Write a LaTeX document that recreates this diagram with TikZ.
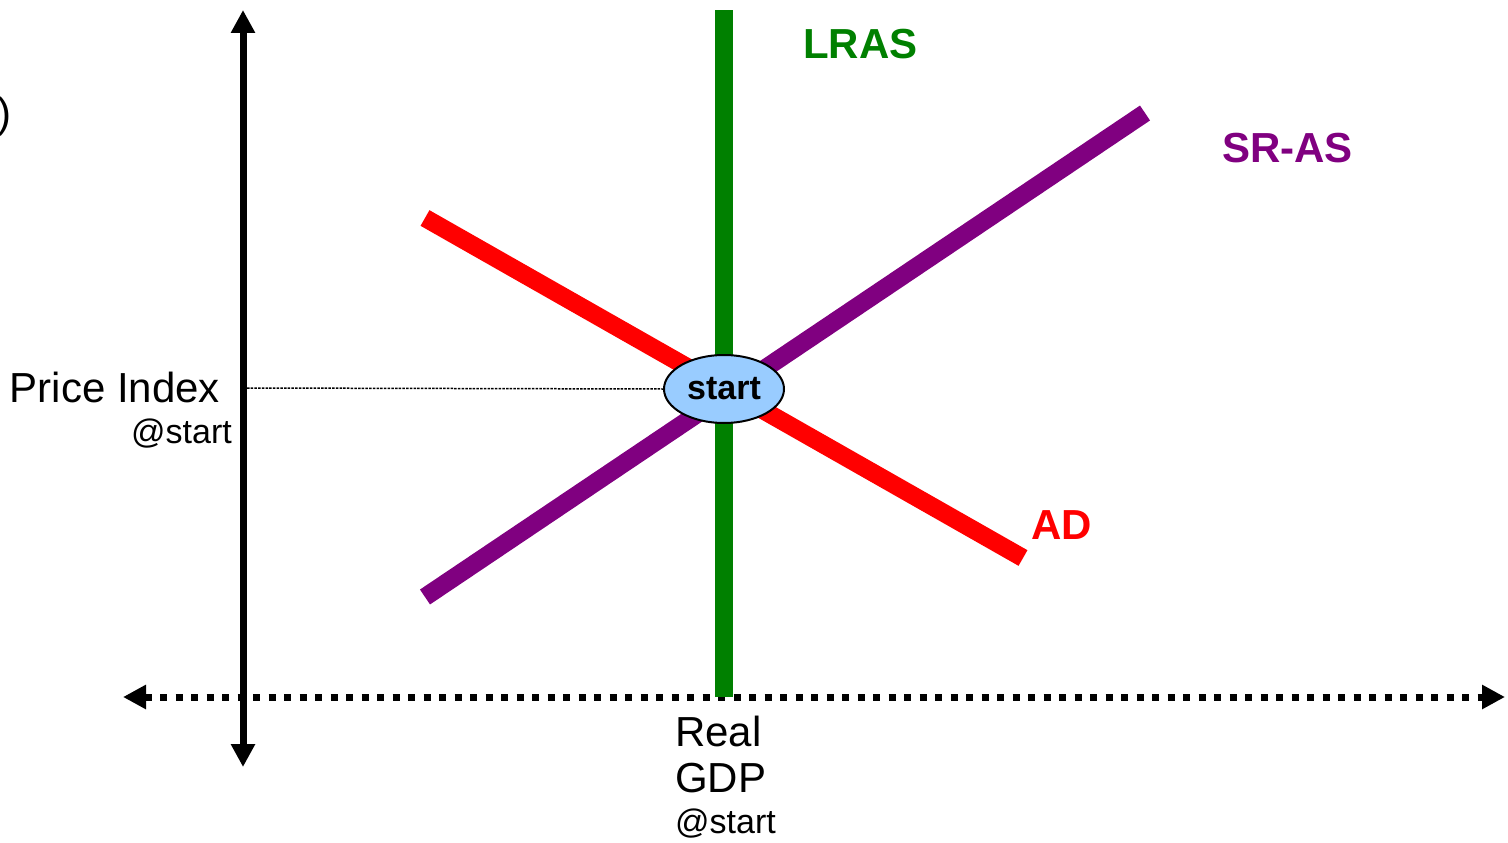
\documentclass[tikz,border=0pt]{standalone}
\usepackage{fontspec}
\setmainfont{Liberation Sans}
\usetikzlibrary{arrows.meta,shapes.geometric}
\definecolor{lrasgreen}{RGB}{0,128,0}
\definecolor{srpurple}{RGB}{128,0,128}
\definecolor{adred}{RGB}{255,0,0}
\definecolor{startblue}{RGB}{153,204,255}
\begin{document}
\begin{tikzpicture}[x=1pt,y=-1pt,
  yaxis/.style={line width=7pt,{Triangle[width=23pt,length=23pt]}-{Triangle[width=23pt,length=23pt]}},
  xaxis/.style={line width=7pt,dash pattern=on 7pt off 8.5pt,{Triangle[width=23pt,length=23pt]}-{Triangle[width=23pt,length=23pt]}},
  curve/.style={line width=18pt},
  guide/.style={line width=1.5pt,dash pattern=on 2.5pt off 1.2pt},
  biglabel/.style={inner sep=0pt,font=\fontsize{42}{46}\selectfont},
  smalllabel/.style={inner sep=0pt,font=\fontsize{34}{40}\selectfont},
  curvelabel/.style={inner sep=0pt,font=\fontsize{42}{46}\selectfont\bfseries},
  startnode/.style={ellipse,draw,line width=2pt,fill=startblue,minimum width=120pt,minimum height=68pt,inner sep=0pt,font=\fontsize{34}{40}\selectfont\bfseries}
]
\useasboundingbox (0,0) rectangle (1508,843);
% axes
\coordinate (xl) at (123,697);
\coordinate (xr) at (1505,697);
\coordinate (ytop) at (243,10);
\coordinate (ybot) at (243,767);
\draw[xaxis] (xl) -- (xr);
\draw[yaxis] (ybot) -- (ytop);
% curves
\coordinate (lrastop) at (724,10);
\coordinate (lrasbot) at (724,697);
\coordinate (adtop) at (425,218);
\coordinate (adbot) at (1023,558);
\coordinate (srlow) at (425,597);
\coordinate (srhigh) at (1145,113);
\draw[curve,adred] (adtop) -- (adbot);
\draw[curve,srpurple] (srlow) -- (srhigh);
\draw[curve,lrasgreen] (lrasbot) -- (lrastop);
% start point
\node[startnode] (st) at (724,389) {start};
\coordinate (guideleft) at (247,388);
\draw[guide] (guideleft) -- (st.west);
% labels
\node[curvelabel,lrasgreen,anchor=base west] (lraslbl) at (803,59) {LRAS};
\node[curvelabel,srpurple,anchor=base west] (srlbl) at (1222,162) {SR-AS};
\node[curvelabel,adred,anchor=base west] (adlbl) at (1031,539) {AD};
\node[biglabel,anchor=base east] (pi) at (220,402) {Price Index};
\node[smalllabel,anchor=base east] (pistart) at (232,443) {@start};
\node[biglabel,anchor=base west] (real) at (675,746) {Real};
\node[biglabel,anchor=base west] (gdp) at (675,792) {GDP};
\node[smalllabel,anchor=base west] (gdpstart) at (675,833) {@start};
\node[biglabel,anchor=base east] (paren) at (12,127) {)};
\end{tikzpicture}
\end{document}
